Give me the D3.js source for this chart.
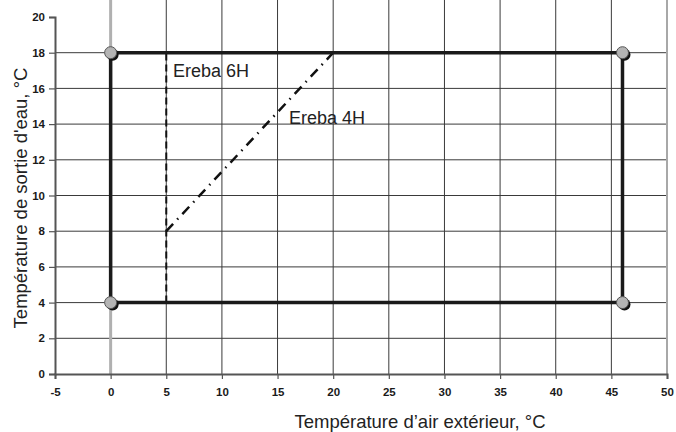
<!DOCTYPE html>
<html>
<head>
<meta charset="utf-8">
<script src="https://cdn.jsdelivr.net/npm/d3@7"></script>
<style>
body { margin: 0; background: #fff; }
svg { font-family: "Liberation Sans", Arial, sans-serif; }
</style>
</head>
<body>
<div id="chart"></div>
<script>
// data
let xTicks = [-5, 0, 5, 10, 15, 20, 25, 30, 35, 40, 45, 50];
let yTicks = [0, 2, 4, 6, 8, 10, 12, 14, 16, 18, 20];
let envX = [0, 0, 46, 46, 0];
let envY = [4, 18, 18, 4, 4];
let markX = [0, 46, 0, 46];
let markY = [18, 18, 4, 4];
let e6hX = [5, 5];
let e6hY = [4, 18];
let e4hX = [5, 20];
let e4hY = [8, 18];

let w = 676, h = 432;
let svg = d3.select("#chart").append("svg").attr("width", w).attr("height", h);

let x = d3.scaleLinear().domain([-5, 50]).range([55, 667]);
let y = d3.scaleLinear().domain([0, 20]).range([374, 17]);

/* grid */
svg.selectAll(".hg").data(yTicks.filter(d => d > 0 && d < 20)).enter().append("line")
  .attr("x1", x(-5)).attr("x2", x(50))
  .attr("y1", d => y(d)).attr("y2", d => y(d))
  .style("stroke", "#3a3a3a").style("stroke-width", 1);

svg.selectAll(".vg").data(xTicks.filter(d => d > 0 && d < 50)).enter().append("line")
  .attr("x1", d => x(d)).attr("x2", d => x(d))
  .attr("y1", 0).attr("y2", y(0))
  .style("stroke", "#3a3a3a").style("stroke-width", 1);

// light gray lines at 0 and 50
svg.append("line").attr("x1", x(0)).attr("x2", x(0)).attr("y1", 0).attr("y2", y(0))
  .style("stroke", "#b0b0b0").style("stroke-width", 3);
svg.append("line").attr("x1", x(50)).attr("x2", x(50)).attr("y1", 0).attr("y2", y(0))
  .style("stroke", "#a8a8a8").style("stroke-width", 2);

/* axes */
let fmt = d => String(d);
let yAxis = svg.append("g").attr("transform", "translate(" + x(-5) + ",0)")
  .call(d3.axisLeft(y).tickValues(yTicks).tickFormat(fmt).tickSize(6).tickPadding(4));
let xAxis = svg.append("g").attr("transform", "translate(0," + y(0) + ")")
  .call(d3.axisBottom(x).tickValues(xTicks).tickFormat(fmt).tickSize(5).tickPadding(9));
[xAxis, yAxis].forEach(a => {
  a.attr("font-family", "Liberation Sans, Arial, sans-serif").attr("font-size", 11.5);
  a.select(".domain").style("stroke", "#555").style("stroke-width", 2);
  a.selectAll(".tick line").style("stroke", "#555").style("stroke-width", 1.2);
  a.selectAll("text").style("font-weight", "bold").style("fill", "#1a1a1a");
});

/* series */
let line = d3.line().x(d => x(d[0])).y(d => y(d[1]));

svg.append("path").datum(e6hX.map((d, i) => [d, e6hY[i]])).attr("d", line)
  .style("fill", "none").style("stroke", "#111").style("stroke-width", 2)
  .style("stroke-dasharray", "7,4");

svg.append("path").datum(e4hX.map((d, i) => [d, e4hY[i]])).attr("d", line)
  .style("fill", "none").style("stroke", "#111").style("stroke-width", 2.5)
  .style("stroke-dasharray", "10,6,1.5,6");

svg.append("path").datum(envX.map((d, i) => [d, envY[i]])).attr("d", line)
  .style("fill", "none").style("stroke", "#1a1a1a").style("stroke-width", 3.5)
  .style("stroke-linejoin", "miter");

// markers with shadow
let pts = markX.map((d, i) => [d, markY[i]]);
svg.selectAll(".sh").data(pts).enter().append("circle")
  .attr("cx", d => x(d[0]) + 2).attr("cy", d => y(d[1]) + 2).attr("r", 6)
  .style("fill", "#111");
svg.selectAll(".mk").data(pts).enter().append("circle")
  .attr("cx", d => x(d[0])).attr("cy", d => y(d[1])).attr("r", 6)
  .style("fill", "#b4b4b4").style("stroke", "#555").style("stroke-width", 1);

/* labels */
svg.append("text").attr("x", 173).attr("y", 77).text("Ereba 6H")
  .style("font-size", "18px").style("fill", "#222");
svg.append("text").attr("x", 289).attr("y", 124).text("Ereba 4H")
  .style("font-size", "18px").style("fill", "#222");

svg.append("text").attr("x", 420).attr("y", 428).attr("text-anchor", "middle")
  .text("Température d\u2019air extérieur, °C")
  .style("font-size", "18.5px").style("fill", "#222");

svg.append("text").attr("transform", "translate(27,198) rotate(-90)").attr("text-anchor", "middle")
  .text("Température de sortie d'eau, °C")
  .style("font-size", "18.5px").style("fill", "#222");
</script>
</body>
</html>
